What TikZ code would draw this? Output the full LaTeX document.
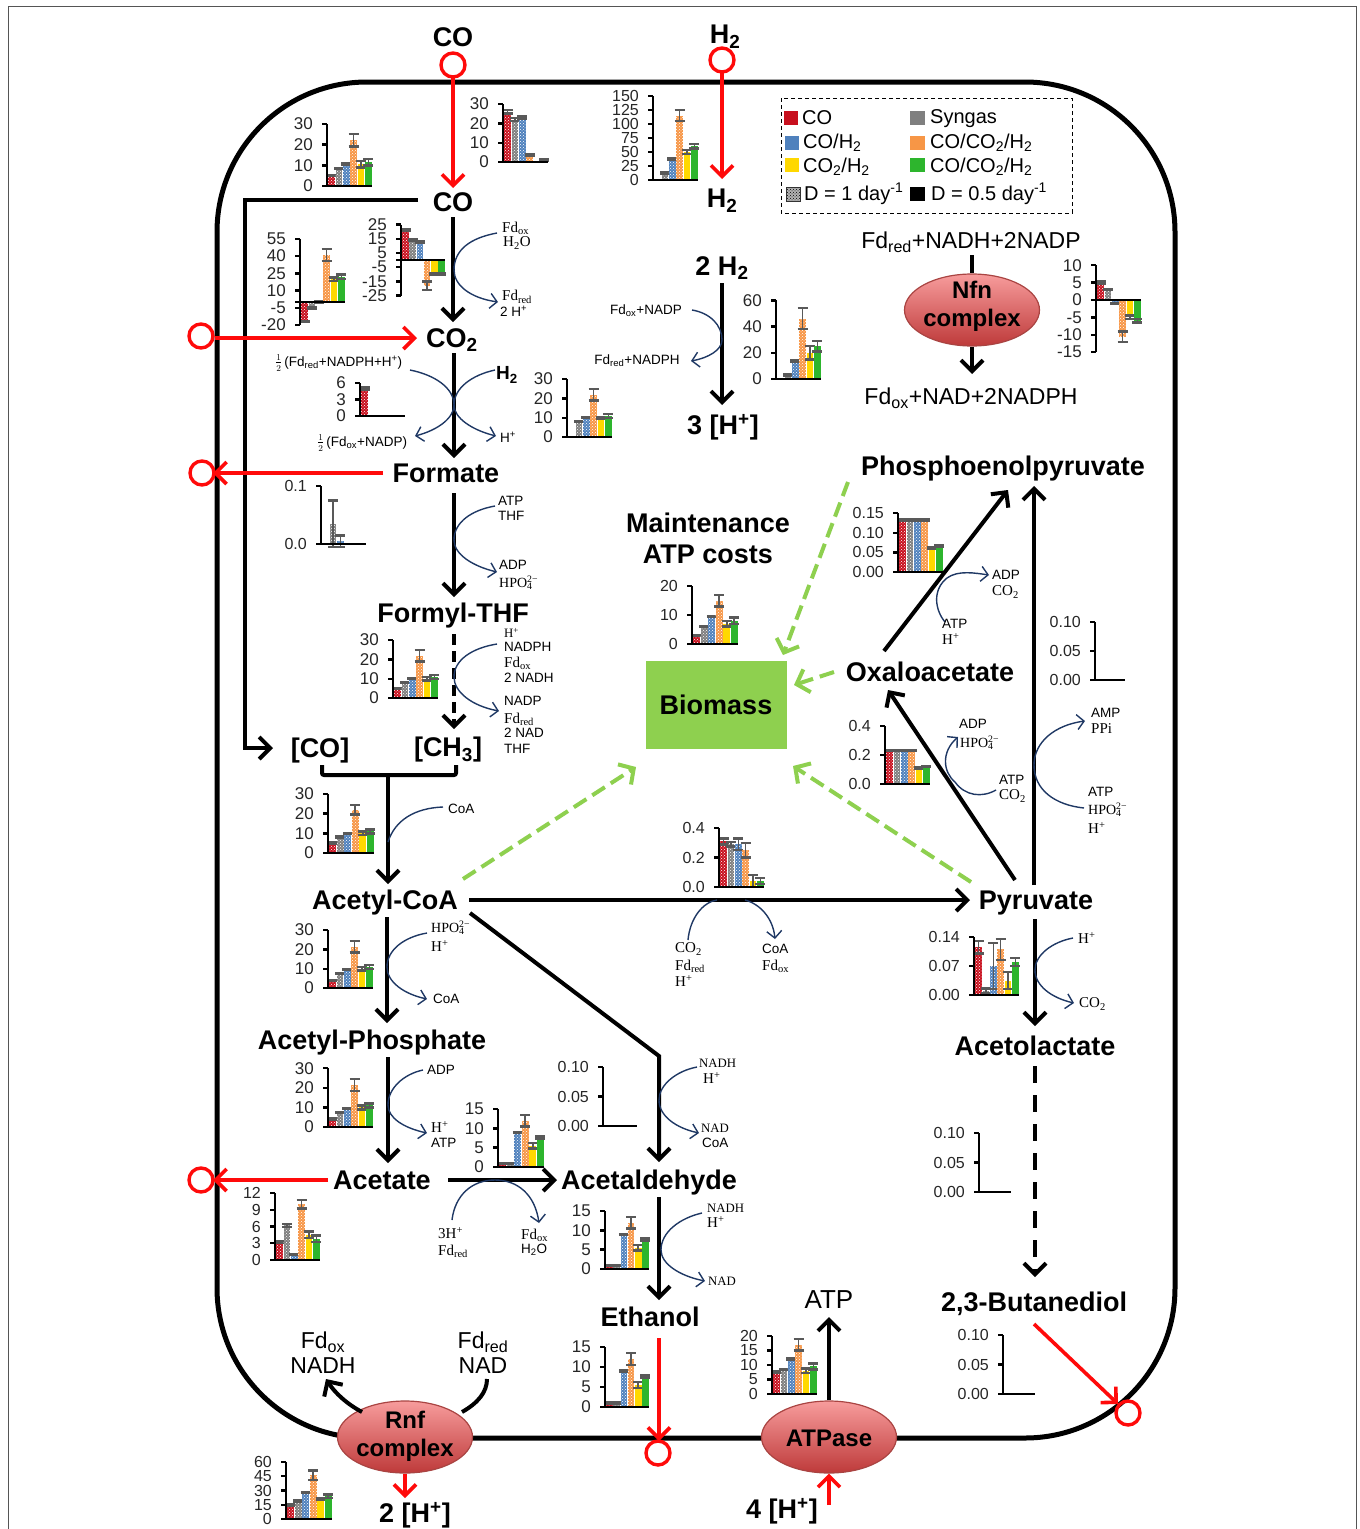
\documentclass[tikz,border=0pt]{standalone}
\usepackage{fontspec}
\setmainfont{Liberation Sans}
\newfontfamily\ser{Liberation Serif}
\usetikzlibrary{arrows.meta,patterns,shapes.geometric}
\definecolor{c1}{HTML}{C8101E}
\definecolor{c2}{HTML}{7F7F7F}
\definecolor{c3}{HTML}{4F81BD}
\definecolor{c4}{HTML}{F79646}
\definecolor{c5}{HTML}{FFD800}
\definecolor{c6}{HTML}{2DB52D}
\definecolor{errc}{HTML}{595959}
\definecolor{redl}{HTML}{FF0A0A}
\definecolor{grn}{HTML}{8ED04F}
\definecolor{blu}{HTML}{1F3864}
\definecolor{ellt}{HTML}{F79C9C}
\definecolor{ellb}{HTML}{BE3A3A}
\definecolor{elld}{HTML}{A94442}
\definecolor{frame}{HTML}{555555}
\newcommand\C[3]{\coordinate (#1) at (#2,#3);}
\newcommand\bchart[8][17]{%
  \pgfmathsetmacro\bw{(#6-#3-1)/6}%
  \foreach \val/\err [count=\ii] in {#8}{%
    \pgfmathtruncatemacro\skipit{(\val==0 && \err==0)?1:0}%
    \ifnum\skipit=0
    \pgfmathsetmacro\xa{#3+1+(\ii-1)*\bw+0.2}%
    \pgfmathsetmacro\xb{\xa+\bw-0.4}%
    \pgfmathsetmacro\xm{\xa+\bw/2-0.2}%
    \pgfmathsetmacro\yv{#4-\val*#5}%
    \pgfmathsetmacro\yu{#4-(\val+\err)*#5}%
    \pgfmathsetmacro\yl{#4-(\val-\err)*#5}%
    \fill[c\ii] (\xa,#4) rectangle (\xb,\yv);
    \ifnum\ii<5 \fill[pattern=crosshatch dots,pattern color=white] (\xa,#4) rectangle (\xb,\yv);\fi
    \draw[errc,line width=1.6] (\xm,\yu) -- (\xm,\yl);
    \draw[errc,line width=2.4] (\xm-5,\yu) -- (\xm+5,\yu) (\xm-5,\yl) -- (\xm+5,\yl);
    \fi
  }%
  \foreach \tv [count=\kk] in {#7}{%
    \pgfmathsetmacro\yt{#4-\tv*#5}%
    \draw[black,line width=2.4] (#3-5,\yt) -- (#3,\yt);
    \node[anchor=east,inner sep=0,text=black!85,font=\fontsize{#1}{#1}\selectfont] (#2t\kk) at (#3-14,\yt) {\tv};
    \ifnum\kk=1 \coordinate (#2top) at (#3,\yt);\fi
    \coordinate (#2bot) at (#3,\yt);
  }%
  \draw[black,line width=2.6] (#2top) -- (#2bot);
  \draw[black,line width=2.8] (#3-5,#4) -- (#6,#4);
}
\newcommand\sbs[1]{\textsubscript{#1}}
\newcommand\sps[1]{\textsuperscript{#1}}
\newcommand\hpo{{\fontsize{14}{15}\selectfont HPO\rlap{\sbs{4}}\sps{2−}}}
\tikzset{
  blk/.style={draw=black,line width=4,-{Straight Barb[length=11pt,width=22pt,line width=4]}},
  blkn/.style={draw=black,line width=4},
  rdl/.style={draw=redl,line width=3.6,-{Straight Barb[length=11pt,width=22pt,line width=3.6]}},
  grd/.style={draw=grn,line width=4,dash pattern=on 15pt off 7pt,-{Straight Barb[length=11pt,width=24pt,line width=4]}},
  bcv/.style={draw=blu,line width=1.4,-{Straight Barb[length=7pt,width=15pt,line width=1.4]}},
  bcn/.style={draw=blu,line width=1.4},
  circ/.style={circle,draw=redl,line width=3.4,minimum size=24pt,inner sep=0},
  bold/.style={inner sep=0,align=center,font=\fontsize{27}{31}\selectfont\bfseries},
  reg/.style={inner sep=0,align=center,font=\fontsize{23}{25}\selectfont},
  smls/.style={inner sep=0,align=left,font=\fontsize{13.5}{15.5}\selectfont},
  smlr/.style={inner sep=0,align=left,font=\fontsize{15}{16}\selectfont\ser},
  smlc/.style={inner sep=0,align=left,font=\fontsize{12.8}{15}\selectfont\ser},
  leg/.style={inner sep=0,anchor=west,font=\fontsize{20}{22}\selectfont},
  ell/.style={ellipse,draw=elld,line width=1.2,top color=ellt,bottom color=ellb,minimum width=135pt,minimum height=72pt,inner sep=0},
  ellt/.style={inner sep=0,align=center,font=\fontsize{24}{28}\selectfont\bfseries},
}
\begin{document}
\begin{tikzpicture}[x=1pt,y=-1pt]
\useasboundingbox (0,0) rectangle (1360,1529);
\draw[frame,line width=1] (8,1529) -- (8,6) -- (1356,6) -- (1356,1529);
% membrane
\draw[black,line width=5,rounded corners=150pt] (217,82) rectangle (1175,1438);
% legend
\draw[black,line width=1,dash pattern=on 4pt off 3pt] (781,98) rectangle (1072,213);
\fill[c1] (784,111) rectangle (798,125);
\node[leg] (lgco) at (802,118) {CO};
\fill[c2] (910,111) rectangle (925,125);
\node[leg] (lgsyn) at (930,119) {Syngas};
\fill[c3] (785,136) rectangle (799,150);
\node[leg] (lgcoh) at (803,143) {CO/H\sbs{2}};
\fill[c4] (910,136) rectangle (925,150);
\node[leg] (lgall) at (930,143) {CO/CO\sbs{2}/H\sbs{2}};
\fill[c5] (785,158) rectangle (799,172);
\node[leg] (lgcoo) at (803,167) {CO\sbs{2}/H\sbs{2}};
\fill[c6] (910,158) rectangle (925,172);
\node[leg] (lgall2) at (930,167) {CO/CO\sbs{2}/H\sbs{2}};
\fill[white!70!black] (786,187) rectangle (800,201);
\fill[pattern=crosshatch dots,pattern color=black] (786,187) rectangle (800,201);
\draw[black!80,line width=.6] (786,187) rectangle (800,201);
\node[leg] (lgd1) at (804,194) {D = 1 day\sps{-1}};
\fill[black] (910,187) rectangle (925,201);
\node[leg] (lgd2) at (931,194) {D = 0.5 day\sps{-1}};
% biomass
\node[fill=grn,minimum width=141pt,minimum height=88pt,inner sep=0,font=\fontsize{27}{31}\selectfont\bfseries] (biomass) at (716,705) {Biomass};
% metabolites
\node[bold] (cotop) at (453,37) {CO};
\node[bold] (h2top) at (725,37) {H\sbs{2}};
\node[bold] (co) at (453,202) {CO};
\node[bold] (h2) at (722,201) {H\sbs{2}};
\node[bold] (co2) at (452,340) {CO\sbs{2}};
\node[bold] (formate) at (446,473) {Formate};
\node[bold] (formyl) at (453,616) {Formyl-THF};
\node[bold] (cobr) at (320,751) {[CO]};
\node[bold] (ch3) at (448,750) {[CH\sbs{3}]};
\node[bold] (acoa) at (385,903) {Acetyl-CoA};
\node[bold] (ap) at (372,1043) {Acetyl-Phosphate};
\node[bold] (acetate) at (382,1180) {Acetate};
\node[bold] (aldeh) at (649,1183) {Acetaldehyde};
\node[bold] (etoh) at (650,1317) {Ethanol};
\node[bold] (twoh2) at (722,268) {2 H\sbs{2}};
\node[bold] (threeh) at (723,427) {3 [H\sps{+}]};
\node[bold] (pep) at (1003,469) {Phosphoenolpyruvate};
\node[bold] (maint) at (708,538) {Maintenance\\ATP costs};
\node[bold] (oaa) at (930,672) {Oxaloacetate};
\node[bold] (pyr) at (1036,903) {Pyruvate};
\node[bold] (alac) at (1035,1046) {Acetolactate};
\node[bold] (btd) at (1034,1304) {2,3-Butanediol};
\node[bold] (twoh) at (415,1515) {2 [H\sps{+}]};
\node[bold] (fourh) at (782,1511) {4 [H\sps{+}]};
\node[reg] (nfnin) at (971,242) {Fd\sbs{red}+NADH+2NADP};
\node[reg] (nfnout) at (971,398) {Fd\sbs{ox}+NAD+2NADPH};
\node[inner sep=0,font=\fontsize{26}{28}\selectfont] (atp) at (829,1300) {ATP};
\node[reg] (fdox) at (323,1353) {Fd\sbs{ox}\\NADH};
\node[reg] (fdred) at (483,1353) {Fd\sbs{red}\\NAD};
% membrane complexes
\node[ell] (nfn) at (972,310) {};
\node[ellt] (nfnl) at (972,306) {Nfn\\complex};
\node[ell] (rnf) at (405,1437) {};
\node[ellt] (rnfl) at (405,1436) {Rnf\\complex};
\node[ell] (atpase) at (829,1437) {};
\node[ellt] (atpl) at (829,1438) {ATPase};
% uptake and export circles
\node[circ] (o1) at (453,65) {};
\node[circ] (o2) at (722,60) {};
\node[circ] (o3) at (201,336) {};
\node[circ] (o4) at (202,473) {};
\node[circ] (o5) at (201,1180) {};
\node[circ] (o6) at (658,1453) {};
\node[circ] (o7) at (1128,1413) {};
% free connector ends
\C{a1}{453}{217}\C{a2}{453}{322}
\C{b1}{454}{353}\C{b2}{454}{458}
\C{d1}{454}{493}\C{d2}{454}{597}
\C{e1}{454}{634}\C{e2}{454}{729}
\C{f1}{418}{200}\C{f2}{245}{200}\C{f3}{245}{748}\C{f4}{273}{748}
\C{g1}{322}{765}\C{g2}{322}{775}\C{g3}{456}{775}\C{g4}{456}{765}\C{g5}{388}{775}\C{g6}{388}{884}
\C{h1}{387}{917}\C{h2}{387}{1023}
\C{i1}{388}{1057}\C{i2}{388}{1163}
\C{j1}{469}{900}\C{j2}{970}{900}
\C{k1}{470}{913}\C{k2}{659}{1056}\C{k3}{659}{1162}
\C{l1}{448}{1180}\C{l2}{557}{1180}
\C{m1}{659}{1197}\C{m2}{659}{1300}
\C{n1}{1035}{919}\C{n2}{1035}{1026}
\C{p1}{1035}{1066}\C{p2}{1035}{1277}
\C{q1}{1015}{880}\C{q2}{888}{690}
\C{r1}{1034}{885}\C{r2}{1034}{486}
\C{s1}{884}{651}\C{s2}{1008}{490}
\C{t1}{722}{283}\C{t2}{722}{405}
\C{u1}{972}{255}\C{u2}{972}{374}
\C{v1}{362}{1412}\C{v2}{326}{1379}
\C{w1}{462}{1412}\C{w2}{487}{1379}
\C{x1}{829}{1317}
\C{y1}{829}{1505}
\C{z1}{405}{1498}
% black reactions
\draw[blk] (a1) -- (a2);
\draw[blk] (b1) -- (b2);
\draw[blk] (d1) -- (d2);
\draw[blk,dash pattern=on 11pt off 6pt] (e1) -- (e2);
\draw[blk] (f1) -- (f2) -- (f3) -- (f4);
\draw[blkn,rounded corners=2pt] (g1) -- (g2) -- (g3) -- (g4);
\draw[blk] (g5) -- (g6);
\draw[blk] (h1) -- (h2);
\draw[blk] (i1) -- (i2);
\draw[blk] (j1) -- (j2);
\draw[blk] (k1) -- (k2) -- (k3);
\draw[blk] (l1) -- (l2);
\draw[blk] (m1) -- (m2);
\draw[blk] (n1) -- (n2);
\draw[blk,dash pattern=on 17pt off 12pt] (p1) -- (p2);
\draw[blk] (q1) -- (q2);
\draw[blk] (r1) -- (r2);
\draw[blk] (s1) -- (s2);
\draw[blk] (t1) -- (t2);
\draw[blkn] (u1) -- (nfn.north);
\draw[blk] (nfn.south) -- (u2);
\draw[blk] (v1) .. controls (347,1404) and (335,1393) .. (v2);
\draw[blkn] (w1) .. controls (478,1403) and (487,1392) .. (w2);
\draw[blk] (atpase.north) -- (x1);
% red fluxes
\draw[rdl] (o1) ++(0,12) -- (453,188);
\draw[rdl] (o2) ++(0,12) -- (722,179);
\draw[rdl] (o3.east) ++(0,2) -- (417,338);
\C{fmo}{383}{473}\draw[rdl] (fmo) -- (213,473);
\C{aco}{328}{1180}\draw[rdl] (aco) -- (213,1180);
\C{eto}{659}{1338}\draw[rdl] (eto) -- (659,1441);
\C{bto}{1034}{1324}\draw[rdl] (bto) -- (1118,1404);
\draw[rdl] (rnf.south) -- (z1);
\draw[rdl] (y1) -- (atpase.south);
% biomass fluxes
\C{gr1}{848}{482}\draw[grd] (gr1) -- (783,655);
\C{gr2}{834}{672}\draw[grd] (gr2) -- (794,685);
\C{gr3}{971}{882}\draw[grd] (gr3) -- (793,766);
\C{gr4}{463}{879}\draw[grd] (gr4) -- (636,767);
% cofactor curves
\draw[bcv] (497,233) .. controls (470,238) and (454,250) .. (454,270) .. controls (454,285) and (470,298) .. (498,302);
\draw[bcv] (410,370) .. controls (435,375) and (454,388) .. (454,405) .. controls (454,418) and (438,430) .. (415,436);
\draw[bcv] (495,370) .. controls (472,375) and (454,388) .. (454,405) .. controls (454,418) and (472,430) .. (496,436);
\draw[bcv] (495,506) .. controls (472,510) and (454,522) .. (454,540) .. controls (454,554) and (472,566) .. (497,572);
\draw[bcv] (497,644) .. controls (472,648) and (454,660) .. (454,677) .. controls (454,692) and (472,706) .. (499,711);
\draw[bcv] (692,310) .. controls (710,313) and (722,325) .. (722,340) .. controls (722,350) and (708,358) .. (691,361);
\draw[bcn] (443,807) .. controls (415,808) and (395,820) .. (388,842);
\draw[bcv] (427,933) .. controls (404,937) and (387,950) .. (387,967) .. controls (387,982) and (404,994) .. (427,999);
\draw[bcv] (423,1070) .. controls (404,1074) and (388,1088) .. (388,1105) .. controls (388,1118) and (404,1128) .. (427,1133);
\draw[bcv] (697,1067) .. controls (676,1071) and (659,1085) .. (659,1100) .. controls (659,1116) and (676,1128) .. (699,1133);
\draw[bcv] (702,1213) .. controls (680,1218) and (661,1232) .. (661,1250) .. controls (661,1264) and (680,1276) .. (705,1281);
\draw[bcv] (452,1220) .. controls (455,1195) and (472,1180) .. (495,1180) .. controls (518,1180) and (535,1195) .. (539,1223);
\draw[bcn] (688,940) .. controls (690,918) and (703,902) .. (717,900);
\draw[bcv] (745,900) .. controls (760,904) and (773,918) .. (775,939);
\draw[bcv] (1073,938) .. controls (1052,942) and (1035,955) .. (1035,970) .. controls (1035,986) and (1052,998) .. (1074,1003);
\draw[bcv] (945,622) .. controls (935,610) and (932,590) .. (947,578) .. controls (958,570) and (975,573) .. (989,575);
\draw[bcv] (996,790) .. controls (982,798) and (965,796) .. (955,782) .. controls (943,772) and (941,752) .. (958,737);
\draw[bcv] (1084,808) .. controls (1055,805) and (1034,790) .. (1034,765) .. controls (1034,742) and (1055,725) .. (1085,721);
% cofactor labels
\node[smlr,anchor=west] (la1) at (502,228) {Fd\sbs{ox}};
\node[smlr,anchor=west] (la2) at (503,243) {H\sbs{2}O};
\node[smlr,anchor=west] (la3) at (502,297) {Fd\sbs{red}};
\node[smls,anchor=west] (la4) at (500,311) {2 H\sps{+}};
\node[smls] (lb1) at (646,311) {Fd\sbs{ox}+NADP};
\node[smls] (lb2) at (637,361) {Fd\sbs{red}+NADPH};
\node[smls,anchor=west] (lc1) at (275,363) {$\frac{1}{2}$\,(Fd\sbs{red}+NADPH+H\sps{+})};
\node[smls,anchor=west] (lc2) at (317,443) {$\frac{1}{2}$\,(Fd\sbs{ox}+NADP)};
\node[smls,anchor=west] (lc3) at (500,437) {H\sps{+}};
\node[inner sep=0,font=\fontsize{19}{20}\selectfont\bfseries] (lc4) at (507,375) {H\sbs{2}};
\node[smls,anchor=west] (ld1) at (498,501) {ATP};
\node[smls,anchor=west] (ld2) at (498,516) {THF};
\node[smls,anchor=west] (ld3) at (499,565) {ADP};
\node[smlr,anchor=west] (ld4) at (499,583) {\hpo};
\node[smlc,anchor=west] (le1) at (504,633) {H\sps{+}};
\node[smls,anchor=west] (le2) at (504,647) {NADPH};
\node[smlr,anchor=west] (le3) at (504,663) {Fd\sbs{ox}};
\node[smls,anchor=west] (le4) at (504,678) {2 NADH};
\node[smls,anchor=west] (le5) at (504,701) {NADP};
\node[smlr,anchor=west] (le6) at (504,719) {Fd\sbs{red}};
\node[smls,anchor=west] (le7) at (504,733) {2 NAD};
\node[smls,anchor=west] (le8) at (504,749) {THF};
\node[smls,anchor=west] (lf1) at (448,809) {CoA};
\node[smlr,anchor=west] (lf2) at (431,928) {\hpo};
\node[smlr,anchor=west] (lf3) at (431,946) {H\sps{+}};
\node[smls,anchor=west] (lf4) at (433,999) {CoA};
\node[smls,anchor=west] (lf5) at (427,1070) {ADP};
\node[smlr,anchor=west] (lf6) at (431,1127) {H\sps{+}};
\node[smls,anchor=west] (lf7) at (431,1143) {ATP};
\node[smlc,anchor=west] (lg1) at (699,1063) {NADH};
\node[smlr,anchor=west] (lg2) at (703,1078) {H\sps{+}};
\node[smlc,anchor=west] (lg3) at (701,1128) {NAD};
\node[smls,anchor=west] (lg4) at (702,1143) {CoA};
\node[smlr,anchor=west] (lh1) at (438,1233) {3H\sps{+}};
\node[smlr,anchor=west] (lh2) at (438,1251) {Fd\sbs{red}};
\node[smlr,anchor=west] (lh3) at (521,1235) {Fd\sbs{ox}};
\node[smls,anchor=west] (lh4) at (521,1250) {H\sbs{2}O};
\node[smlc,anchor=west] (li1) at (707,1208) {NADH};
\node[smlr,anchor=west] (li2) at (707,1222) {H\sps{+}};
\node[smlc,anchor=west] (li3) at (708,1281) {NAD};
\node[smlr,anchor=west] (lj1) at (675,949) {CO\sbs{2}};
\node[smlr,anchor=west] (lj2) at (675,966) {Fd\sbs{red}};
\node[smlr,anchor=west] (lj3) at (675,981) {H\sps{+}};
\node[smls,anchor=west] (lj4) at (762,949) {CoA};
\node[smlr,anchor=west] (lj5) at (762,966) {Fd\sbs{ox}};
\node[smlr,anchor=west] (lk1) at (1078,938) {H\sps{+}};
\node[smlr,anchor=west] (lk2) at (1079,1004) {CO\sbs{2}};
\node[smls,anchor=west] (lm1) at (992,575) {ADP};
\node[smlr,anchor=west] (lm2) at (992,592) {CO\sbs{2}};
\node[smls,anchor=west] (lm3) at (942,624) {ATP};
\node[smlr,anchor=west] (lm4) at (942,639) {H\sps{+}};
\node[smls,anchor=west] (ln1) at (959,724) {ADP};
\node[smlr,anchor=west] (ln2) at (960,743) {\hpo};
\node[smls,anchor=west] (ln3) at (999,780) {ATP};
\node[smlr,anchor=west] (ln4) at (999,796) {CO\sbs{2}};
\node[smls,anchor=west] (lo1) at (1091,713) {AMP};
\node[smlr,anchor=west] (lo2) at (1091,729) {PPi};
\node[smls,anchor=west] (lo3) at (1088,792) {ATP};
\node[smlr,anchor=west] (lo4) at (1088,810) {\hpo};
\node[smlr,anchor=west] (lo5) at (1088,828) {H\sps{+}};
% bar charts
\bchart{A}{327}{186}{2.07}{372}{30,20,10,0}{5/.3,8.5/.3,10.5/.3,22/3,10.5/1.5,11.5/1.5}
\bchart{B}{503}{162}{1.93}{548}{30,20,10,0}{26/.8,22/.8,23/.5,3.5/.3,0/0,1/.5}
\bchart[16]{Cc}{653}{180}{.56}{698}{150,125,100,75,50,25,0}{0/0,12/1.5,37/1.5,115/10,50/4,60/4}
\bchart{D}{300}{302}{1.147}{345}{55,40,25,10,-5,-20}{-17/.5,-5/.5,0/.3,41/5,20/1.5,22/2}
\bchart{E}{401}{260}{1.42}{445}{25,15,5,-5,-15,-25}{21/.5,14/.5,12.7/.5,-18/3,-10/.5,-10/.5}
\bchart{F}{776}{379}{1.31}{821}{60,40,20,0}{0/0,3/.3,14/.5,46/8,20/5,25/4}
\bchart{G}{1096}{300}{3.48}{1141}{10,5,0,-5,-10,-15}{5/.3,3/.2,-1/.2,-10.5/1.5,-5/.5,-6/.5}
\bchart{H}{360}{416}{5.5}{405}{6,3,0}{5/.2,0/0,0/0,0/0,0/0,0/0}
\bchart{I}{567}{437}{1.93}{612}{30,20,10,0}{0/0,8/.3,10/.3,22/3,10/.5,11/1}
\bchart[16]{J}{321}{544}{580}{366}{0.1,0.0}{0/0,.035/.04,.005/.01,0/0,0/0,0/0}
\bchart{K}{393}{698}{1.93}{438}{30,20,10,0}{5/.3,8/.3,10/.3,22/3,10/1,11/1}
\bchart[16]{L}{692}{644}{2.9}{738}{20,10,0}{3/.2,6/.2,9.5/.2,15/2,7/1,8/1.2}
\bchart[16]{M}{898}{572}{393}{943}{0.15,0.10,0.05,0.00}{.133/.002,.133/.002,.133/.002,.133/.002,.06/.002,.065/.002}
\bchart[16]{N}{885}{784}{145}{930}{0.4,0.2,0.0}{.23/.004,.23/.004,.23/.004,.23/.004,.11/.004,.12/.004}
\bchart[16]{O}{1095}{680}{580}{1125}{0.10,0.05,0.00}{0/0,0/0,0/0,0/0,0/0,0/0}
\bchart[16]{P}{719}{887}{147}{764}{0.4,0.2,0.0}{.31/.02,.29/.015,.29/.04,.25/.05,.04/.04,.04/.02}
\bchart[16]{Q}{974}{995}{414}{1019}{0.14,0.07,0.00}{.115/.015,.01/.006,.07/.055,.11/.025,.035/.02,.08/.01}
\bchart[16]{R}{979}{1192}{590}{1011}{0.10,0.05,0.00}{0/0,0/0,0/0,0/0,0/0,0/0}
\bchart{S}{328}{853}{1.97}{374}{30,20,10,0}{5/.3,8/.3,10/.3,22/2.5,10/1,11/1}
\bchart{T}{328}{988}{1.93}{373}{30,20,10,0}{4/.3,7.5/.3,9.5/.3,21.5/3,10/1,11/1}
\bchart{U}{328}{1127}{1.96}{373}{30,20,10,0}{4/.3,7.5/.3,9.5/.3,21.5/3,10/1,11/1}
\bchart{V}{498}{1167}{3.87}{544}{15,10,5,0}{1/.1,1/.1,9/.1,12/1.5,5.5/.7,7.7/.3}
\bchart[16]{W}{603}{1126}{590}{637}{0.10,0.05,0.00}{0/0,0/0,0/0,0/0,0/0,0/0}
\bchart[16]{X}{275}{1260}{5.58}{320}{12,9,6,3,0}{3.2/.1,6.2/.3,1/.1,10/.8,4.5/.6,3.8/.6}
\bchart{Y}{605}{1269}{3.87}{649}{15,10,5,0}{1/.1,1/.1,9/.1,12/1.5,5.5/.7,7.7/.3}
\bchart{Z}{605}{1407}{4}{649}{15,10,5,0}{1/.1,1/.1,9/.1,12/1.5,5.5/.7,7.7/.3}
\bchart[16]{AA}{286}{1519}{.95}{332}{60,45,30,15,0}{15/1,19/.5,28/.5,46/5,21/1,24/2}
\bchart[16]{BB}{772}{1394}{2.9}{817}{20,15,10,5,0}{7.5/.2,8.5/.2,12/.2,17/2,8/.8,9.5/1}
\bchart[16]{CC}{1003}{1394}{590}{1035}{0.10,0.05,0.00}{0/0,0/0,0/0,0/0,0/0,0/0}
\end{tikzpicture}
\end{document}
